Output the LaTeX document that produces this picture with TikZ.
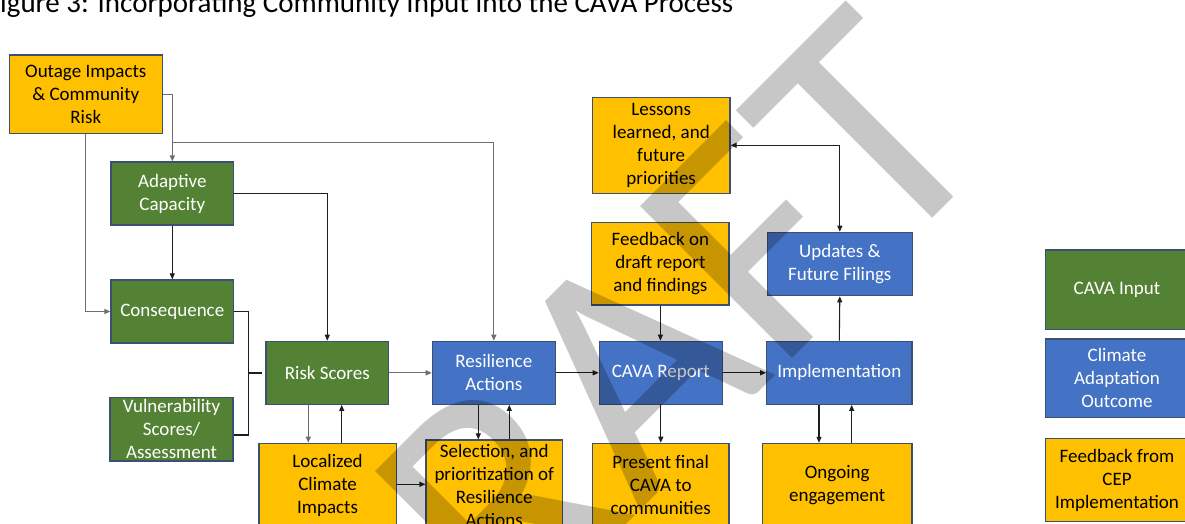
\documentclass[tikz,border=0pt]{standalone}
\usepackage{fontspec}
\setmainfont{Carlito}
\usetikzlibrary{arrows.meta,calc}
\definecolor{yel}{HTML}{FFC000}
\definecolor{grn}{HTML}{548235}
\definecolor{blu}{HTML}{4472C4}
\definecolor{bord}{RGB}{60,80,115}
\definecolor{lnA}{RGB}{30,30,30}
\definecolor{lnB}{RGB}{110,110,110}
\definecolor{wm}{RGB}{199,199,199}
\begin{document}
\begin{tikzpicture}[x=1pt,y=-1pt,
  box/.style={draw=bord, line width=1.2pt, align=center, inner sep=0pt,
    font=\fontsize{19}{23}\selectfont},
  gbox/.style={box, fill=grn, text=white},
  bbox/.style={box, fill=blu, text=white},
  ybox/.style={box, fill=yel, text=black},
  sz/.style 2 args={minimum width=#1pt, minimum height=#2pt},
  conn/.style={draw=lnA, line width=1.1pt},
  conng/.style={draw=lnB, line width=1.3pt},
  arr/.style={conn, -{Triangle[length=6pt,width=5pt]}},
  arrg/.style={conng, -{Triangle[length=6pt,width=5pt]}},
]
\useasboundingbox (0,0) rectangle (1185,524);
\fill[white] (0,0) rectangle (1185,524);

% title (cut at the top edge as in the reference)
\node[anchor=base west, inner sep=0pt, font=\fontsize{29}{35}\selectfont] (title) at (-13.3,12.5)
  {Figure 3: Incorporating Community Input into the CAVA Process};

% boxes
\node[ybox, sz={153}{78.3}] (outage) at (85.8,94.2) {Outage Impacts\\\& Community\\Risk};
\node[gbox, sz={122.7}{63}] (adapt) at (172.3,193.5) {Adaptive\\Capacity};
\node[gbox, sz={122.7}{63}] (conseq) at (172.3,311.5) {Consequence};
\node[gbox, sz={123}{63.3}] (vuln) at (171.5,429.3) {Vulnerability\\Scores/\\Assessment};
\node[gbox, sz={122.7}{63}] (risk) at (327.3,372.8) {Risk Scores};
\node[ybox, sz={137.3}{83.5}] (local) at (327.6,485) {Localized\\Climate\\Impacts};
\node[bbox, sz={123}{63}] (resil) at (493.8,372.8) {Resilience\\Actions};
\node[ybox, sz={136.3}{91.6}] (select) at (494.2,485.8) {Selection, and\\prioritization of\\Resilience\\Actions};
\node[bbox, sz={123}{63}] (cava) at (660.8,372.8) {CAVA Report};
\node[ybox, sz={136.7}{83.4}] (present) at (660.7,485) {Present final\\CAVA to\\communities};
\node[ybox, sz={137.7}{96}] (lessons) at (661.2,145.3) {Lessons\\learned, and\\future\\priorities};
\node[ybox, sz={137.3}{82.7}] (feedback) at (660.4,263.7) {Feedback on\\draft report\\and findings};
\node[bbox, sz={145}{63.4}] (updates) at (839.8,264) {Updates \&\\Future Filings};
\node[bbox, sz={145.3}{63}] (impl) at (839.3,372.8) {Implementation};
\node[ybox, sz={149.7}{83.7}] (ongoing) at (837.2,485.2) {Ongoing\\engagement};

% legend
\node[gbox, sz={142.6}{79.3}] (leg1) at (1117,289.7) {CAVA Input};
\node[bbox, sz={142.6}{78.7}] (leg2) at (1117,378.3) {Climate\\Adaptation\\Outcome};
\node[ybox, sz={142.6}{83.4}] (leg3) at (1117,480) {Feedback from\\CEP\\Implementation};

% connectors
\coordinate (j1) at (172.3,142.7);
\draw[arrg] (outage.east) -| (adapt.north);
\draw[arrg] (j1) -| (resil.north);
\draw[arrg] (outage.south) |- (conseq.west);
\draw[arr] (adapt.south) -- (conseq.north);
\draw[arr] (adapt.east) -| (risk.north);
\coordinate (bk) at (248.3,373);
\coordinate (bkend) at (261.7,373);
\draw[conn] (conseq.east) -| (bk) |- ($(vuln.east)+(0,5.7)$);
\draw[conn] (bk) -- (bkend);
\draw[arrg] (risk.east) -- (resil.west);
\draw[arrg] ([xshift=-19pt]risk.south) -- ([xshift=-19pt]risk.south |- local.north);
\draw[arr] ([xshift=14.4pt]risk.south |- local.north) -- ([xshift=14.4pt]risk.south);
\draw[arr] (local.east |- 0,484.3) -- (select.west |- 0,484.3);
\draw[arr] ([xshift=-15.5pt]resil.south) -- ([xshift=-15.5pt]resil.south |- select.north);
\draw[arr] ([xshift=15.5pt]resil.south |- select.north) -- ([xshift=15.5pt]resil.south);
\draw[arr] (resil.east) -- (cava.west);
\draw[arr] (feedback.south) -- (feedback.south |- cava.north);
\draw[arr] (cava.south) -- (cava.south |- present.north);
\draw[arr] (cava.east) -- (impl.west);
\draw[arr] (impl.north) -- (updates.south);
\draw[arr] ([xshift=-20.3pt]impl.south) -- ([xshift=-20.3pt]impl.south |- ongoing.north);
\draw[arr] ([xshift=12.4pt]impl.south |- ongoing.north) -- ([xshift=12.4pt]impl.south);
\draw[conn, {Triangle[length=6pt,width=5pt]}-{Triangle[length=6pt,width=5pt]}] (lessons.east) -| (updates.north);

% watermark
\begin{scope}[blend mode=multiply]
\node[rotate=45, anchor=base, inner sep=0pt, text=wm, font=\fontsize{335}{335}\selectfont] (draft) at (683,468) {DRAFT};
\end{scope}
\end{tikzpicture}
\end{document}
